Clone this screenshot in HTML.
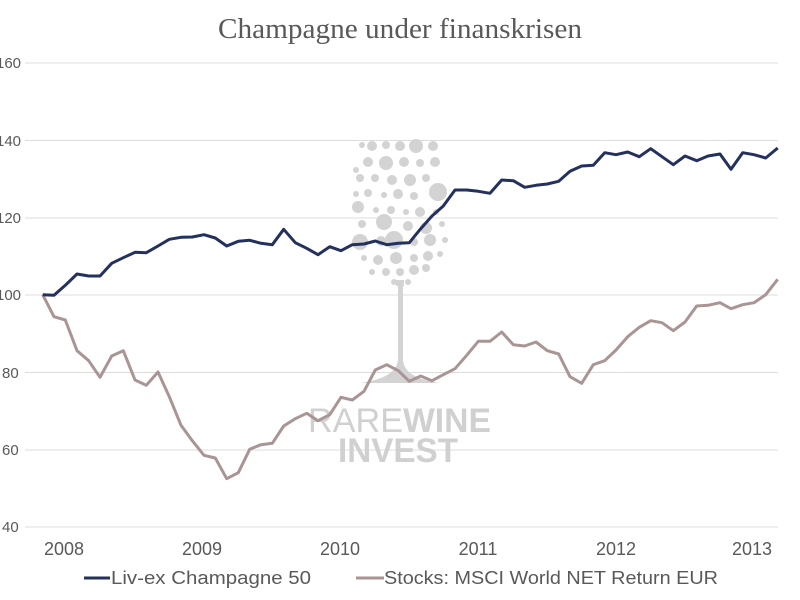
<!DOCTYPE html>
<html><head><meta charset="utf-8"><style>
body{margin:0;background:#fff;}
svg{display:block;}
</style></head><body>
<svg width="800" height="600" viewBox="0 0 800 600" xmlns="http://www.w3.org/2000/svg">
<rect width="800" height="600" fill="#fff"/>
<text x="400" y="38" text-anchor="middle" font-family="Liberation Serif, serif" font-size="28" fill="#595959" textLength="364" lengthAdjust="spacingAndGlyphs">Champagne under finanskrisen</text>
<g stroke="#dcdcdc" stroke-width="1">
<line x1="25" y1="63" x2="778" y2="63"/>
<line x1="25" y1="140.5" x2="778" y2="140.5"/>
<line x1="25" y1="218" x2="778" y2="218"/>
<line x1="25" y1="295" x2="778" y2="295"/>
<line x1="25" y1="372.5" x2="778" y2="372.5"/>
<line x1="25" y1="450" x2="778" y2="450"/>
<line x1="25" y1="527" x2="778" y2="527"/>
</g>
<g font-family="Liberation Sans, sans-serif" font-size="15" fill="#595959">
<text x="-4" y="68">160</text>
<text x="-4" y="146">140</text>
<text x="-4" y="223">120</text>
<text x="-4" y="300">100</text>
<text x="2" y="378">80</text>
<text x="2" y="455">60</text>
<text x="2" y="532">40</text>
<g text-anchor="middle" font-size="18">
<text x="64" y="555">2008</text>
<text x="202" y="555">2009</text>
<text x="340" y="555">2010</text>
<text x="478" y="555">2011</text>
<text x="616" y="555">2012</text>
<text x="752" y="555">2013</text>
</g>
<line x1="84" y1="578" x2="110" y2="578" stroke="#24305e" stroke-width="3"/>
<text x="111" y="584" font-size="18" textLength="200" lengthAdjust="spacingAndGlyphs">Liv-ex Champagne 50</text>
<line x1="356" y1="578" x2="384" y2="578" stroke="#a89594" stroke-width="3"/>
<text x="384" y="584" font-size="18" textLength="334" lengthAdjust="spacingAndGlyphs">Stocks: MSCI World NET Return EUR</text>
</g>
<g fill="#d3d3d3">
<circle cx="362" cy="145" r="3"/><circle cx="372" cy="146" r="5"/><circle cx="386" cy="145" r="4"/><circle cx="400" cy="146" r="5"/><circle cx="416" cy="146" r="7"/><circle cx="433" cy="146" r="5"/>
<circle cx="368" cy="162" r="5"/><circle cx="386" cy="163" r="7"/><circle cx="404" cy="162" r="5"/><circle cx="420" cy="163" r="4"/><circle cx="435" cy="162" r="5"/><circle cx="356" cy="170" r="3"/>
<circle cx="360" cy="178" r="4"/><circle cx="375" cy="178" r="4"/><circle cx="392" cy="180" r="5"/><circle cx="410" cy="180" r="6"/><circle cx="426" cy="178" r="4"/><circle cx="438" cy="192" r="9"/>
<circle cx="356" cy="194" r="3"/><circle cx="368" cy="193" r="4"/><circle cx="384" cy="195" r="3"/><circle cx="398" cy="194" r="5"/><circle cx="414" cy="196" r="4"/>
<circle cx="358" cy="207" r="6"/><circle cx="376" cy="210" r="3"/><circle cx="391" cy="210" r="4"/><circle cx="406" cy="212" r="3"/><circle cx="420" cy="212" r="5"/><circle cx="436" cy="212" r="3"/>
<circle cx="362" cy="224" r="4"/><circle cx="384" cy="222" r="8"/><circle cx="408" cy="226" r="5"/><circle cx="426" cy="228" r="6"/><circle cx="442" cy="224" r="3"/>
<circle cx="360" cy="242" r="8"/><circle cx="381" cy="241" r="5"/><circle cx="394" cy="240" r="9"/><circle cx="414" cy="242" r="4"/><circle cx="430" cy="240" r="6"/><circle cx="445" cy="240" r="3"/>
<circle cx="364" cy="258" r="3"/><circle cx="378" cy="260" r="5"/><circle cx="396" cy="258" r="6"/><circle cx="414" cy="258" r="4"/><circle cx="428" cy="256" r="5"/><circle cx="440" cy="254" r="3"/>
<circle cx="372" cy="272" r="3"/><circle cx="386" cy="272" r="4"/><circle cx="400" cy="272" r="4"/><circle cx="414" cy="270" r="5"/><circle cx="426" cy="268" r="4"/>
<circle cx="394" cy="282" r="3"/><circle cx="408" cy="282" r="3"/>
<rect x="396" y="280" width="8" height="6"/>
<rect x="398" y="284" width="5" height="90"/>
<path d="M398 360 Q396 378 360 383 L440 383 Q404 378 403 360Z"/>
</g>
<g font-family="Liberation Sans, sans-serif" fill="#d0d0d0" font-size="34">
<text x="308" y="432" textLength="95" lengthAdjust="spacingAndGlyphs">RARE</text>
<text x="403" y="432" font-weight="bold" textLength="88" lengthAdjust="spacingAndGlyphs">WINE</text>
<text x="338" y="462" font-weight="bold" textLength="120" lengthAdjust="spacingAndGlyphs">INVEST</text>
</g>
<polyline fill="none" stroke="#a89594" stroke-width="3" stroke-linejoin="round" points="42.7,294.7 54,316.7 65.3,320 77,350.7 88.7,360.7 100,377.3 111.7,356 123.3,350.7 135,380 146.3,385.3 158,372 169.3,396.7 181,425.3 192.3,440.7 204,455.3 215.3,458 226.7,478.7 238.3,472.7 249.7,449.3 261,444.7 272.3,443.3 283.7,426 295.3,418.7 306.7,413.3 318,420.7 329.7,414.7 341,397.3 352.3,400 364,391.3 375.3,370 386.7,364.7 398.3,370.7 409.3,381.3 420.7,376 432,380.7 443.3,374.7 455,368.7 466.7,355.3 478.3,341.3 490,341.3 501.7,332 513.3,344.7 524.7,346 536,342 547.3,350.7 558.7,354 570,376.7 581.7,383.3 593.3,364.7 604.7,360.7 616,350 627.7,336.7 639.3,327.3 650.7,320.7 662,322.7 673.3,330.7 685,322 696.7,306 708,305.3 720,302.7 731,308.7 742.7,304.7 754,302.7 765.7,294.7 777.7,279.3"/>
<polyline fill="none" stroke="#24305e" stroke-width="3" stroke-linejoin="round" points="42.7,294.7 54,295.3 65.3,285.3 77,274 88.7,276 100,276 111.7,263.3 123.3,257.7 135,252.3 146.3,252.7 158,246 169.3,239.3 181,237.3 192.3,237 204,234.7 215.3,238 226.7,246 238.3,241.3 249.7,240.3 261,243.3 272.3,244.7 283.7,229.3 295.3,242.7 306.7,248.3 318,254.7 329.7,246.7 341,250.7 352.3,244.7 364,244 375.3,241 386.7,244.7 398.3,243.3 409.3,242.7 420.7,228.7 432,216 443.3,206 455,190 466.7,190 478.3,191.3 490,193.3 501.7,180 513.3,180.7 524.7,187.3 536,185.3 547.3,184 558.7,181.3 570,171.3 581.7,166 593.3,165.3 604.7,152.7 616,154.7 627.7,152 639.3,156.7 650.7,148.7 662,156.7 673.3,164.7 685,156 696.7,160.7 708,156 720,154 731,169.3 742.7,152.7 754,154.7 765.7,158 777.7,148"/>
</svg>
</body></html>
